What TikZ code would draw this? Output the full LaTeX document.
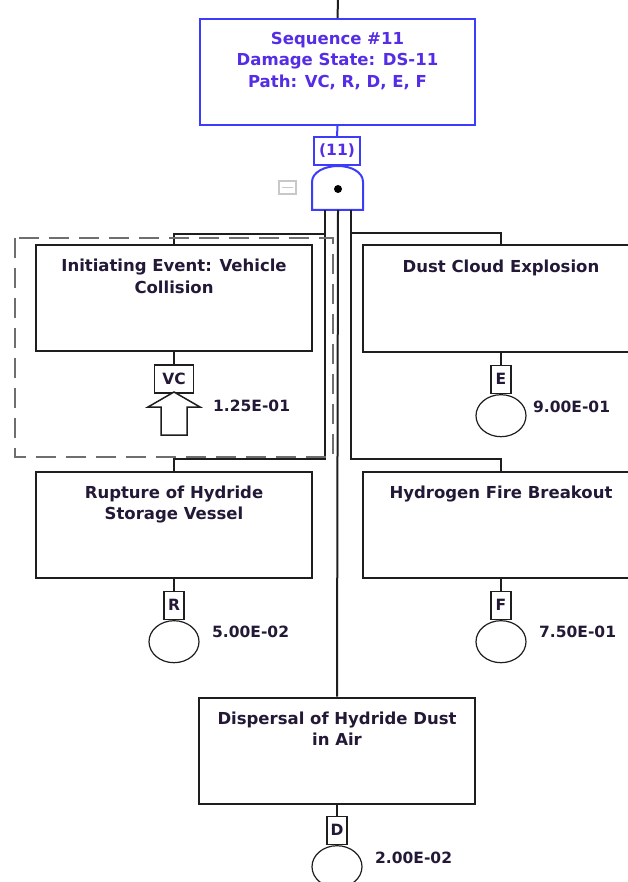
\documentclass[tikz,border=0pt]{standalone}
\usepackage{fontspec}
\setmainfont{DejaVu Sans}
\usetikzlibrary{positioning,shapes.geometric}
\definecolor{seqblue}{RGB}{60,60,250}
\definecolor{seqtext}{RGB}{85,45,230}
\definecolor{evtextc}{RGB}{35,25,55}
\definecolor{linec}{RGB}{30,30,30}
\definecolor{foldc}{RGB}{200,200,200}
\definecolor{groupc}{RGB}{110,110,110}

\begin{document}
\begin{tikzpicture}[x=1pt,y=-1pt,
        conn/.style={draw=linec, line width=2pt},
        seqbox/.style={draw=seqblue, line width=2pt, fill=white, minimum width=275pt, minimum height=106pt, inner sep=0pt},
        seqtxt/.style={text=seqtext, align=center, inner sep=0pt, font=\fontsize{16.5}{21.5}\selectfont\bfseries},
        evbox/.style={draw=linec, line width=2pt, fill=white, minimum width=276pt, minimum height=106pt, inner sep=0pt},
        evtext/.style={text=evtextc, align=center, inner sep=0pt, font=\fontsize{16.5}{21.5}\selectfont\bfseries},
        idbox/.style={draw=linec, line width=1.6pt, fill=white, minimum height=28pt, minimum width=20pt, inner sep=0pt, text=evtextc, font=\fontsize{15.5}{18}\selectfont\bfseries},
        basic/.style={ellipse, draw=linec, line width=1.2pt, fill=white, minimum width=50pt, minimum height=42pt, inner sep=0pt},
        prob/.style={anchor=west, inner sep=0pt, text=evtextc, font=\fontsize{15.5}{18}\selectfont\bfseries}]
    \useasboundingbox (0,0) rectangle (628,882);
    \clip (0,0) rectangle (628,882);

    % sequence box and gate
    \coordinate (top) at (338,0);
    \node[seqbox] (seq) at (337.5,72) {};
    \node[seqtxt, below=14pt of seq.north] (seqlines) {Sequence \#11\\Damage State: DS-11\\Path: VC, R, D, E, F};
    \draw[conn] (top) -- (seq.north);
    \node[draw=seqblue, line width=1.6pt, minimum width=46pt, minimum height=28pt, inner sep=0pt, text=seqtext, font=\fontsize{15.5}{18}\selectfont\bfseries] (gl) at (337,151) {(11)};
    \draw[draw=seqblue, line width=2pt] (seq.south) -- (gl.north);
    \draw[draw=seqblue, line width=2pt, fill=white] (312,210) -- (312,182) .. controls (312,172) and (325,166) .. (338,166) .. controls (351,166) and (363,172) .. (363,182) -- (363,210) -- cycle;
    \node[circle, fill=black, inner sep=0pt, minimum size=8pt] (anddot) at (338,189) {};
    \node[draw=foldc, line width=1.5pt, minimum width=17pt, minimum height=13pt, inner sep=0pt] (fold) at (287.5,187.5) {};
    \draw[foldc, line width=1.5pt] ([xshift=4pt]fold.west) -- ([xshift=-4pt]fold.east);
    \coordinate (gleft) at (325,210); \coordinate (gout) at (338,210); \coordinate (gright) at (351,210);

    % events
    \node[evbox] (ie) at (174,298) {};
    \node[evtext, below=15pt of ie.north] (ietxt) {Initiating Event: Vehicle\\Collision};
    \node[evbox] (dce) at (501,298.5) {};
    \node[evtext, below=15pt of dce.north] (dcetxt) {Dust Cloud Explosion};
    \node[evbox] (rup) at (174,524.5) {};
    \node[evtext, below=15pt of rup.north] (ruptxt) {Rupture of Hydride\\Storage Vessel};
    \node[evbox] (hfb) at (501,524.5) {};
    \node[evtext, below=15pt of hfb.north] (hfbtxt) {Hydrogen Fire Breakout};
    \node[evbox] (disp) at (337,750.5) {};
    \node[evtext, below=15pt of disp.north] (disptxt) {Dispersal of Hydride Dust\\in Air};

    % gate outputs
    \draw[conn] (gleft) |- ([yshift=10pt]ie.north) -- (ie.north);
    \draw[conn] (gleft) |- ([yshift=12pt]rup.north) -- (rup.north);
    \draw[conn] (gright) |- ([yshift=11pt]dce.north) -- (dce.north);
    \draw[conn] (gright) |- ([yshift=12pt]hfb.north) -- (hfb.north);
    \draw[conn] (gout) -- (disp.north);

    % group around the initiating event
    \draw[groupc, line width=1.5pt, dash pattern=on 20pt off 10pt] (15,238) rectangle (333,457);

    % identifiers and basic events
    \node[idbox, minimum width=39pt, below=12pt of ie] (vc) {VC};
    \draw[conn] (ie.south) -- (vc.north);
    \draw[linec, line width=1.5pt, fill=white] (174,392) -- (200,407) -- (187,407) -- (187,435) -- (161,435) -- (161,407) -- (148,407) -- cycle;
    \node[prob] (pvc) at (213,406) {1.25E-01};

    \node[idbox, below=12pt of dce] (eid) {E};
    \draw[conn] (dce.south) -- (eid.north);
    \node[basic, below=0pt of eid] (ecirc) {};
    \node[prob] (pe) at (533,407) {9.00E-01};

    \node[idbox, below=12pt of rup] (rid) {R};
    \draw[conn] (rup.south) -- (rid.north);
    \node[basic, below=0pt of rid] (rcirc) {};
    \node[prob] (pr) at (212,632) {5.00E-02};

    \node[idbox, below=12pt of hfb] (fid) {F};
    \draw[conn] (hfb.south) -- (fid.north);
    \node[basic, below=0pt of fid] (fcirc) {};
    \node[prob] (pf) at (539,632) {7.50E-01};

    \node[idbox, below=11pt of disp] (did) {D};
    \draw[conn] (disp.south) -- (did.north);
    \node[basic, below=0pt of did] (dcirc) {};
    \node[prob] (pd) at (375,858) {2.00E-02};
\end{tikzpicture}
\end{document}
